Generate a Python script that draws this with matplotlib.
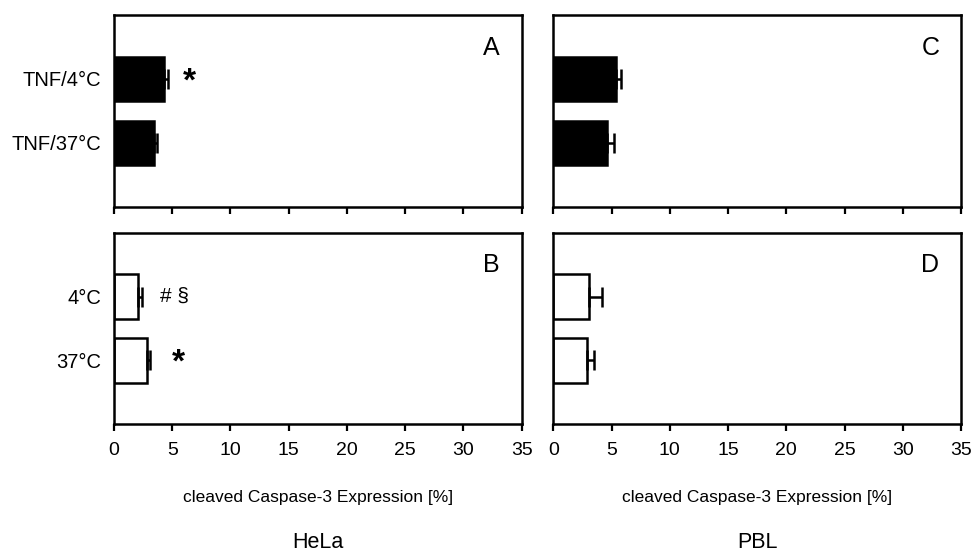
import numpy as np
import matplotlib.pyplot as plt

plt.rcParams['font.family'] = ['Liberation Sans', 'DejaVu Sans']

# treatment groups, listed top to bottom
tnf_labels = ["TNF/4°C", "TNF/37°C"]
ctrl_labels = ["4°C", "37°C"]

# cleaved caspase-3 (%) and SEM
hela_tnf = [4.3, 3.45]
hela_tnf_err = [0.3, 0.2]
hela_ctrl = [2.1, 2.8]
hela_ctrl_err = [0.3, 0.3]
pbl_tnf = [5.35, 4.6]
pbl_tnf_err = [0.5, 0.65]
pbl_ctrl = [3.1, 2.9]
pbl_ctrl_err = [1.05, 0.6]

xticks = [0, 5, 10, 15, 20, 25, 30, 35]
xlabel = "cleaved Caspase-3 Expression [%]"

fig = plt.figure(figsize=(9.75, 5.56), dpi=100)
W, H = 975, 556


def add_axes(x0, y0, x1, y1):
    return fig.add_axes([x0 / W, 1 - y1 / H, (x1 - x0) / W, (y1 - y0) / H])


axA = add_axes(114, 15, 521.7, 207)
axB = add_axes(114, 233, 521.7, 424)
axC = add_axes(553.3, 15, 961, 207)
axD = add_axes(553.3, 233, 961, 424)

pos = np.array([2, 1])


def draw(ax, vals, errs, filled, labels, letter):
    fc = "black" if filled else "white"
    ax.barh(pos, vals, height=0.7, color=fc, edgecolor="black", linewidth=1.8, zorder=2)
    ax.errorbar(vals, pos, xerr=[np.zeros(len(errs)), errs], fmt="none",
                ecolor="black", elinewidth=1.8, capsize=7, capthick=1.8, zorder=3)
    ax.set_xlim(0, 35)
    ax.set_ylim(0, 3)
    ax.set_xticks(xticks)
    for s in ax.spines.values():
        s.set_linewidth(1.8)
    ax.tick_params(axis="x", direction="out", length=5, width=1.6, labelsize=14, pad=8)
    ax.tick_params(axis="y", length=0, labelsize=14.5, pad=9)
    if labels is not None:
        ax.set_yticks(pos)
        ax.set_yticklabels(labels)
    else:
        ax.set_yticks([])
    ax.text(0.925, 0.83, letter, transform=ax.transAxes, ha="center", va="center", fontsize=18)


draw(axA, hela_tnf, hela_tnf_err, True, tnf_labels, "A")
draw(axB, hela_ctrl, hela_ctrl_err, False, ctrl_labels, "B")
draw(axC, pbl_tnf, pbl_tnf_err, True, None, "C")
draw(axD, pbl_ctrl, pbl_ctrl_err, False, None, "D")

for ax in (axA, axC):
    ax.tick_params(axis="x", labelbottom=False)

# significance marks
axA.text(6.45, 1.95, "*", ha="center", va="center", fontsize=24, fontweight="bold")
axB.text(5.2, 2, "# §", ha="center", va="center", fontsize=15)
axB.text(5.5, 0.95, "*", ha="center", va="center", fontsize=24, fontweight="bold")

for ax, name in ((axB, "HeLa"), (axD, "PBL")):
    ax.set_xlabel(xlabel, fontsize=12.5, labelpad=22)
    ax.text(0.5, -0.62, name, transform=ax.transAxes, ha="center", va="center", fontsize=15.5)

fig.savefig("out.png", dpi=100)
